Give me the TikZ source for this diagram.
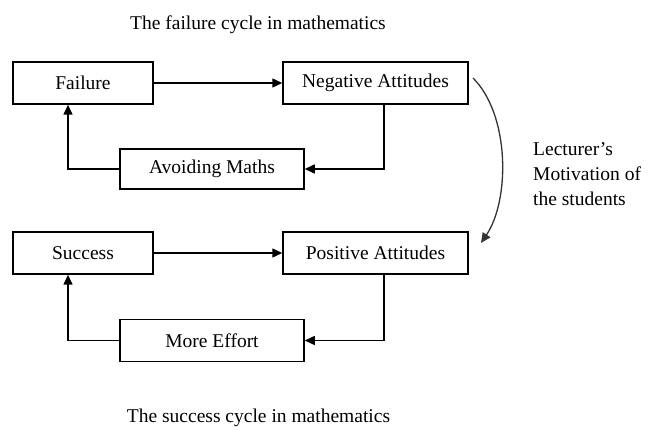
\documentclass[tikz,border=0pt]{standalone}
\usepackage{fontspec}
\setmainfont{Liberation Serif}
\usetikzlibrary{arrows.meta}
\begin{document}
\begin{tikzpicture}[x=1pt,y=-1pt,
  every node/.style={font=\fontsize{19.5}{25}\selectfont, inner sep=0pt},
  box/.style={draw, line width=1.5pt, minimum height=42pt, anchor=center},
  arr/.style={line width=1.5pt, -{Triangle[length=10pt,width=9pt]}}]
\useasboundingbox (0,0) rectangle (648,430);
\node (t1) at (258,25) {The failure cycle in mathematics};
\node (t2) at (258.5,418) {The success cycle in mathematics};
\node[box, minimum width=140pt] (fail) at (83,83) {Failure};
\node[box, minimum width=185pt] (neg) at (375.5,83) {Negative Attitudes};
\node[box, minimum width=184pt, minimum height=40pt] (avoid) at (212,169) {Avoiding Maths};
\node[box, minimum width=140pt] (succ) at (83,253) {Success};
\node[box, minimum width=185pt] (pos) at (375.5,253) {Positive Attitudes};
\node[box, minimum width=184pt] (eff) at (212,340.5) {More Effort};
\node[align=left, anchor=west] (lab) at (533,174) {Lecturer’s\\Motivation of\\the students};
\draw[arr] (fail.east) -- (neg.west);
\draw[arr] ([xshift=8.5pt]neg.south) |- (avoid.east);
\draw[arr] (avoid.west) -| ([xshift=-15pt]fail.south);
\draw[arr] (succ.east) -- (pos.west);
\draw[arr] ([xshift=8.5pt]pos.south) |- (eff.east);
\draw[arr] (eff.west) -| ([xshift=-15pt]succ.south);
\coordinate (c1) at (473,78);
\coordinate (c2) at (481,243);
\draw[line width=1.3pt, draw=black!80, -{Triangle[length=10pt,width=9pt]}] (c1) .. controls (510,115) and (510,200) .. (c2);
\end{tikzpicture}
\end{document}
